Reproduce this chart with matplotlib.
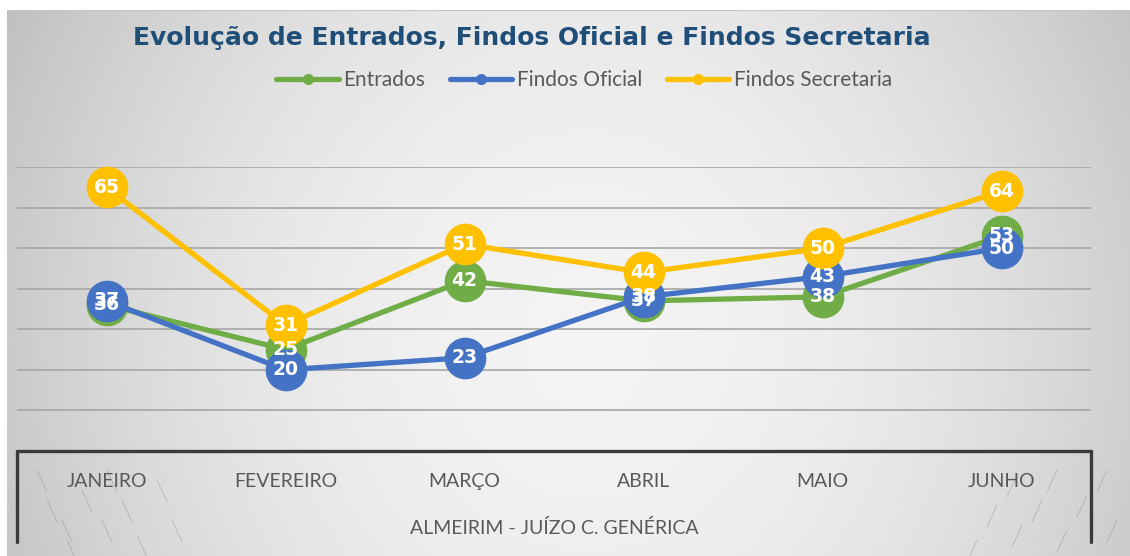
import numpy as np
import matplotlib
matplotlib.use("Agg")
import matplotlib.pyplot as plt
from matplotlib.lines import Line2D

months = ["JANEIRO", "FEVEREIRO", "MARÇO", "ABRIL", "MAIO", "JUNHO"]
entrados = [36, 25, 42, 37, 38, 53]
findos_oficial = [37, 20, 23, 38, 43, 50]
findos_secretaria = [65, 31, 51, 44, 50, 64]

series = [
    ("Entrados", entrados, "#70AD47"),
    ("Findos Oficial", findos_oficial, "#4472C4"),
    ("Findos Secretaria", findos_secretaria, "#FFC000"),
]

title = "Evolução de Entrados, Findos Oficial e Findos Secretaria"
xlabel = "ALMEIRIM - JUÍZO C. GENÉRICA"

W, H, DPI = 1130, 556, 100
fig = plt.figure(figsize=(W / DPI, H / DPI), dpi=DPI)
fig.patch.set_facecolor("white")

# grey gradient background panel
bg = fig.add_axes([7 / W, 0, 1 - 7 / W, 1 - 10 / H])
bg.set_axis_off()
yy, xx = np.mgrid[0:546, 0:1123]
cx, cy = 580, 330
dx = (xx - cx) / 580.0
dy = (yy - cy) / 420.0
shade = np.clip(0.955 - 0.16 * dx ** 2 - 0.07 * dy ** 2, 0, 1)
bg.imshow(np.dstack([shade] * 3), aspect="auto", extent=[0, 1, 0, 1], origin="upper")
bg.plot([0, 1], [1, 1], color="#c4c4c4", lw=1.5, transform=bg.transAxes)
bg.set_xlim(0, 1)
bg.set_ylim(0, 1)


def streak(x0, y0, x1, y1):
    bg.plot([x0 / 1123, x1 / 1123], [1 - (y0 - 10) / 546, 1 - (y1 - 10) / 546],
            color="#6e6e6e", lw=0.6, alpha=0.35, solid_capstyle="butt")


# short diagonal streaks near the bottom corners
for x0, y0 in [(30, 470), (40, 500), (55, 520), (75, 490), (95, 520), (115, 500),
               (130, 535), (150, 480), (165, 520), (100, 470), (60, 540)]:
    streak(x0, y0, x0 + 10, y0 + 22)
for x0, y0 in [(1050, 470), (1035, 500), (1015, 525), (990, 505), (1080, 495),
               (1100, 470), (1110, 520), (970, 540), (1060, 530), (1010, 475)]:
    streak(x0, y0, x0 - 10, y0 + 22)

# main plot area
ax = fig.add_axes([17 / W, (H - 451) / H, 1074 / W, 284 / H])
ax.patch.set_alpha(0)
x = np.arange(len(months))
ax.set_xlim(-0.5, len(months) - 0.5)
ax.set_ylim(0, 70)
ax.set_yticks(np.arange(10, 71, 10))
ax.yaxis.grid(True, color="#a6a6a6", lw=1.2)
ax.tick_params(axis="y", left=False, labelleft=False)
ax.set_axisbelow(True)
for s in ["left", "right", "top"]:
    ax.spines[s].set_visible(False)
ax.spines["bottom"].set_color("#3a3a3a")
ax.spines["bottom"].set_linewidth(2.4)
ax.spines["bottom"].set_capstyle("round")

for xe in (0.0, 1.0):
    ax.add_line(Line2D([xe, xe], [0, -0.32], transform=ax.transAxes, color="#3a3a3a",
                       lw=2.4, clip_on=False, solid_capstyle="round"))

label_font = ["Lato", "DejaVu Sans"]
ax.set_xticks(x)
ax.set_xticklabels(months)
ax.tick_params(axis="x", length=0, pad=16, labelsize=14, labelcolor="#595959")
for t in ax.get_xticklabels():
    t.set_family(label_font)
ax.set_xlabel(xlabel, fontsize=14, color="#595959", labelpad=21, family=label_font)

for name, vals, col in series:
    ax.plot(x, vals, color=col, lw=3.8, marker="o", markersize=29, clip_on=False,
            solid_capstyle="round", label=name, zorder=3)
for name, vals, col in series:
    for xi, v in zip(x, vals):
        ax.text(xi, v, str(v), ha="center", va="center", color="white",
                fontsize=13.5, fontweight="bold", zorder=5)

handles = [Line2D([0], [0], color=c, lw=3.8, marker="o", markersize=7, solid_capstyle="round")
           for _, _, c in series]
leg = fig.legend(handles, [n for n, _, _ in series], loc="center", ncol=3,
                 bbox_to_anchor=(584 / W, 1 - 80 / H), frameon=False,
                 handlelength=3.0, handletextpad=0.2, columnspacing=1.2,
                 prop={"family": label_font, "size": 15})
for t in leg.get_texts():
    t.set_color("#595959")

fig.text(532 / W, 1 - 38 / H, title, ha="center", va="center", fontsize=18,
         fontweight="bold", color="#1F4E79", family="DejaVu Sans")

fig.savefig("out.png", dpi=DPI)
